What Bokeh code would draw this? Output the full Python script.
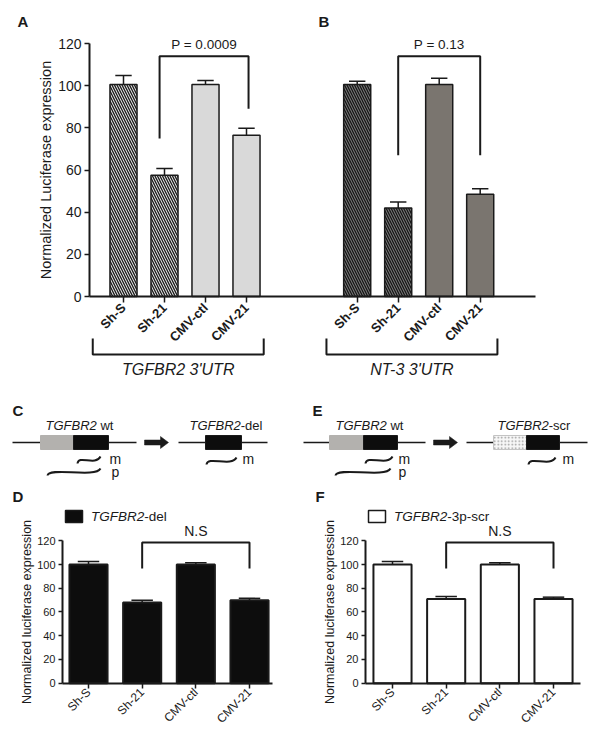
import math
from bokeh.plotting import figure
from bokeh.models import Range1d, LinearAxis, FixedTicker
from bokeh.layouts import column, row
from bokeh.embed import file_html
from bokeh.resources import INLINE
from bokeh.core.properties import value

FONT = "Liberation Sans"
INK = "#1a1a1a"

# ---------------- data ----------------
categories = ["Sh-S", "Sh-21", "CMV-ctl", "CMV-21"]
positions_A = [10, 20, 30, 40]
positions_B = [67, 77, 87, 97]
values_A = [100.5, 57.5, 100.5, 76.5]
errors_A = [4.3, 3.2, 2.0, 3.3]
values_B = [100.5, 42.0, 100.5, 48.5]
errors_B = [1.6, 2.8, 3.0, 2.6]
group_labels = ["TGFBR2 3'UTR", "NT-3 3'UTR"]
p_value_labels = ["P = 0.0009", "P = 0.13"]
top_y_ticks = [0, 20, 40, 60, 80, 100, 120]

positions_DF = [1, 2, 3, 4]
values_D = [100.0, 68.0, 100.0, 70.0]
errors_D = [2.5, 2.0, 1.5, 1.5]
values_F = [100.0, 71.0, 100.0, 71.0]
errors_F = [2.5, 2.0, 1.5, 1.5]
bottom_y_ticks = [0, 20, 40, 60, 80, 100, 120]
ns_label = "N.S"
legend_D = ("TGFBR2", "-del")
legend_F = ("TGFBR2", "-3p-scr")


# ---------------- helpers ----------------
def hrange(page_lo, page_hi, anchor_page, anchor_val, ppu):
    return Range1d(anchor_val + (page_lo - anchor_page) / ppu,
                   anchor_val + (page_hi - anchor_page) / ppu)


def vrange(page_top, page_bottom, anchor_page, anchor_val, ppu):
    return Range1d(anchor_val - (page_bottom - anchor_page) / ppu,
                   anchor_val + (anchor_page - page_top) / ppu)


def make_fig(page_x, page_y, xr=None, yr=None):
    width = page_x[1] - page_x[0]
    height = page_y[1] - page_y[0]
    if xr is None:
        xr = Range1d(page_x[0], page_x[1])
    if yr is None:
        yr = Range1d(page_y[1], page_y[0])
    p = figure(width=width, height=height, x_range=xr, y_range=yr,
               output_backend="svg", toolbar_location=None,
               x_axis_location=None, y_axis_location=None,
               min_border=0, title=None)
    p.outline_line_color = None
    p.grid.visible = False
    p.background_fill_color = "white"
    p.border_fill_color = "white"
    p.extra_x_ranges = {"page": Range1d(page_x[0], page_x[1])}
    p.extra_y_ranges = {"page": Range1d(page_y[1], page_y[0])}
    return p


def txt(p, x, y, s, size, style="normal", align="left", baseline="middle",
        angle=0.0, color=INK, page=False, xo=0, yo=0):
    kw = dict(x_range_name="page", y_range_name="page") if page else {}
    p.text(x=[x], y=[y], text=[s], text_font=value(FONT),
           text_font_size=f"{size}px", text_font_style=style,
           text_align=align, text_baseline=baseline, text_color=color,
           angle=angle, x_offset=xo, y_offset=yo, **kw)


def error_bars(p, xs, vals, errs, cap, lw=1.5):
    tops = [v + e for v, e in zip(vals, errs)]
    p.segment(x0=xs, y0=vals, x1=xs, y1=tops, line_color=INK, line_width=lw)
    p.segment(x0=[x - cap / 2 for x in xs], y0=tops,
              x1=[x + cap / 2 for x in xs], y1=tops, line_color=INK, line_width=lw)


def style_y_axis(ax, tick_size, label_size, standoff):
    ax.axis_line_width = 2
    ax.axis_line_color = INK
    ax.major_tick_line_width = 1.5
    ax.major_tick_line_color = INK
    ax.major_tick_out = 5
    ax.major_tick_in = 0
    ax.minor_tick_out = 0
    ax.minor_tick_in = 0
    ax.major_label_text_font = FONT
    ax.major_label_text_font_size = f"{tick_size}px"
    ax.major_label_text_color = INK
    ax.major_label_standoff = 3
    ax.axis_label_text_font = FONT
    ax.axis_label_text_font_size = f"{label_size}px"
    ax.axis_label_text_font_style = "normal"
    ax.axis_label_text_color = INK
    ax.axis_label_standoff = standoff


def style_x_axis(ax, tick_size, bold):
    ax.axis_line_width = 2
    ax.axis_line_color = INK
    ax.major_tick_line_width = 1.5
    ax.major_tick_line_color = INK
    ax.major_tick_out = 6
    ax.major_tick_in = 0
    ax.minor_tick_out = 0
    ax.minor_tick_in = 0
    ax.major_label_text_font = FONT
    ax.major_label_text_font_size = f"{tick_size}px"
    ax.major_label_text_font_style = "bold" if bold else "normal"
    ax.major_label_text_color = INK
    ax.major_label_standoff = 3
    ax.major_label_orientation = math.pi / 4


def wave(p, x0, x1, yc):
    p.bezier(x0=[x0], y0=[yc + 4], x1=[x1], y1=[yc - 3],
             cx0=[x0 + 1], cy0=[yc - 5], cx1=[x1 - 5], cy1=[yc + 7],
             line_color=INK, line_width=2)


def label_pair(p, x, y, a, b, size=13, gap=0.0):
    txt(p, x, y, a, size, style="italic", page=True)
    txt(p, x, y, b, size, page=True, xo=3.945 * size + gap * size)


# ---------------- top panel (A + B) ----------------
TX_PPU, TY_PPU = 4.1, 2.1083
top = make_fig((0, 588), (0, 390),
               hrange(0, 588, 123, positions_A[0], TX_PPU),
               vrange(0, 390, 296, 0, TY_PPU))
bw = 6.6
top.vbar(x=positions_A[:2], top=values_A[:2], bottom=0, width=bw,
         fill_color="#e6e6e6", line_color=INK, line_width=1.5,
         hatch_pattern="left_diagonal_line", hatch_color=INK,
         hatch_scale=5, hatch_weight=1.3)
top.vbar(x=positions_A[2:], top=values_A[2:], bottom=0, width=bw,
         fill_color="#d9d9d9", line_color=INK, line_width=1.5)
top.vbar(x=positions_B[:2], top=values_B[:2], bottom=0, width=bw,
         fill_color="#767676", line_color=INK, line_width=1.5,
         hatch_pattern="left_diagonal_line", hatch_color="#111111",
         hatch_scale=5, hatch_weight=1.2)
top.vbar(x=positions_B[2:], top=values_B[2:], bottom=0, width=bw,
         fill_color="#7a756f", line_color=INK, line_width=1.5)
error_bars(top, positions_A, values_A, errors_A, 4.0)
error_bars(top, positions_B, values_B, errors_B, 4.0)

y_axis_x = positions_A[0] + (89 - 123) / TX_PPU
x_axis_end = positions_A[0] + (535 - 123) / TX_PPU
yax = LinearAxis(fixed_location=y_axis_x, bounds=(0, 120),
                 ticker=FixedTicker(ticks=top_y_ticks),
                 axis_label="Normalized Luciferase expression")
style_y_axis(yax, 14, 14.5, 1)
top.add_layout(yax, "left")
all_pos = positions_A + positions_B
xax = LinearAxis(fixed_location=0, bounds=(y_axis_x, x_axis_end),
                 ticker=FixedTicker(ticks=all_pos),
                 major_label_overrides={pos: categories[i % 4] for i, pos in enumerate(all_pos)})
style_x_axis(xax, 13, True)
top.add_layout(xax, "below")

# p-value brackets
bracket_x = [(positions_A[1] - 1.2, positions_A[3] + 0.5), (positions_B[1], positions_B[3])]
bracket_top = [114, 114]
bracket_legs = [(75, 89), (67, 67)]
for (xl, xr), ytop, (yl, yr), lab in zip(bracket_x, bracket_top, bracket_legs, p_value_labels):
    top.line(x=[xl, xl, xr, xr], y=[yl, ytop, ytop, yr], line_color=INK, line_width=2)
    txt(top, (xl + xr) / 2, ytop, lab, 13.5, align="center", baseline="bottom", yo=-4)

# group brackets under the axis
for pos, lab in zip([positions_A, positions_B], group_labels):
    xl, xr = pos[0] - 7.5, pos[-1] + 4.2
    top.line(x=[xl, xl, xr, xr], y=[-19.9, -27.5, -27.5, -19.9], line_color=INK, line_width=2)
    txt(top, (xl + xr) / 2, -34.5, lab, 16, style="italic", align="center")

txt(top, 17, 21, "A", 15, style="bold", page=True)
txt(top, 318, 21, "B", 15, style="bold", page=True)

# ---------------- middle diagrams (C, E) ----------------
midL = make_fig((0, 300), (390, 485))
midR = make_fig((300, 588), (390, 485))


def arrow(p, x0, x1, yc):
    xh = x1 - 8
    p.patch(x=[x0, xh, xh, x1, xh, xh, x0],
            y=[yc - 2.5, yc - 2.5, yc - 6, yc, yc + 6, yc + 2.5, yc + 2.5],
            fill_color=INK, line_color=INK, line_width=0.5)


def box(p, x0, x1, yc, color, line="#1a1a1a", hatch=None):
    kw = {}
    if hatch:
        kw = dict(hatch_pattern=hatch, hatch_color="#9a9a9a", hatch_scale=3.5, hatch_weight=1)
    p.quad(left=[x0], right=[x1], top=[yc - 7], bottom=[yc + 7],
           fill_color=color, line_color=line, line_width=1, **kw)


# C
txt(midL, 12, 410, "C", 15, style="bold")
label_pair(midL, 45, 425, "TGFBR2", "wt", gap=0.278)
midL.line(x=[12, 136], y=[442, 442], line_color=INK, line_width=1.5)
box(midL, 40, 73, 442, "#b3b1ae", line="#b3b1ae")
box(midL, 73, 108, 442, "#0d0d0d")
wave(midL, 77, 100, 459)
txt(midL, 109, 458, "m", 14)
wave(midL, 47, 100, 471)
txt(midL, 111, 471, "p", 14)
arrow(midL, 144, 168, 442)
label_pair(midL, 189, 425, "TGFBR2", "-del")
midL.line(x=[178, 267], y=[442, 442], line_color=INK, line_width=1.5)
box(midL, 205, 241, 442, "#0d0d0d")
wave(midL, 206, 236, 460)
txt(midL, 242, 458, "m", 14)

# E
txt(midR, 312, 410, "E", 15, style="bold")
label_pair(midR, 335, 425, "TGFBR2", "wt", gap=0.278)
midR.line(x=[303, 425], y=[442, 442], line_color=INK, line_width=1.5)
box(midR, 329, 363, 442, "#b3b1ae", line="#b3b1ae")
box(midR, 363, 397, 442, "#0d0d0d")
wave(midR, 365, 392, 459)
txt(midR, 398, 458, "m", 14)
wave(midR, 335, 390, 471)
txt(midR, 398, 471, "p", 14)
arrow(midR, 433, 457, 442)
label_pair(midR, 497, 425, "TGFBR2", "-scr")
midR.line(x=[466, 587], y=[442, 442], line_color=INK, line_width=1.5)
box(midR, 493, 526, 442, "#f7f7f7", line="#c4c4c4", hatch="dot")
box(midR, 526, 559, 442, "#0d0d0d")
wave(midR, 528, 555, 460)
txt(midR, 562, 458, "m", 14)

# ---------------- bottom panels (D, F) ----------------
BX_PPU, BY_PPU = 53.67, 1.1867


def bottom_panel(page_x, first_bar_page, yaxis_page, xend_page, vals, errs,
                 fill, letter, letter_x, legend, legend_fill):
    page_y = (485, 726)
    p = make_fig(page_x, page_y,
                 hrange(page_x[0], page_x[1], first_bar_page, positions_DF[0], BX_PPU),
                 vrange(page_y[0], page_y[1], 682.7, 0, BY_PPU))
    p.vbar(x=positions_DF, top=vals, bottom=0, width=0.71, fill_color=fill,
           line_color=INK, line_width=2)
    error_bars(p, positions_DF, vals, errs, 0.4, lw=1.5)
    yloc = positions_DF[0] + (yaxis_page - first_bar_page) / BX_PPU
    xend = positions_DF[0] + (xend_page - first_bar_page) / BX_PPU
    ya = LinearAxis(fixed_location=yloc, bounds=(0, 120), ticker=FixedTicker(ticks=bottom_y_ticks),
                    axis_label="Normalized luciferase expression")
    style_y_axis(ya, 11, 12.5, 0)
    ya.major_tick_out = 4
    p.add_layout(ya, "left")
    xa = LinearAxis(fixed_location=0, bounds=(yloc, xend), ticker=FixedTicker(ticks=positions_DF),
                    major_label_overrides={pos: categories[i] for i, pos in enumerate(positions_DF)})
    style_x_axis(xa, 12, False)
    xa.major_tick_out = 5
    xa.major_label_standoff = 2
    p.add_layout(xa, "below")
    # N.S bracket
    xl, xr = positions_DF[1], positions_DF[3]
    p.line(x=[xl, xl, xr, xr], y=[96.7, 118.6, 118.6, 96.7], line_color=INK, line_width=2)
    txt(p, (xl + xr) / 2, 118.6, ns_label, 14, align="center", baseline="bottom", yo=-3)
    # letter + legend
    txt(p, letter_x, 496, letter, 15, style="bold", page=True)
    lx = letter_x + 61.5
    p.rect(x=[lx], y=[516], width=[17], height=[12], fill_color=legend_fill,
           line_color=INK, line_width=1.5, x_range_name="page", y_range_name="page")
    label_pair(p, lx + 17, 516, legend[0], legend[1], 13.5)
    return p


d_fig = bottom_panel((0, 300), 88, 62, 272, values_D, errors_D, "#0d0d0d", "D", 12, legend_D, "#0d0d0d")
f_fig = bottom_panel((300, 588), 392, 365, 580, values_F, errors_F, "white", "F", 315, legend_F, "white")

layout = column(top, row(midL, midR), row(d_fig, f_fig))
open("out.html", "w").write(file_html(layout, INLINE))
